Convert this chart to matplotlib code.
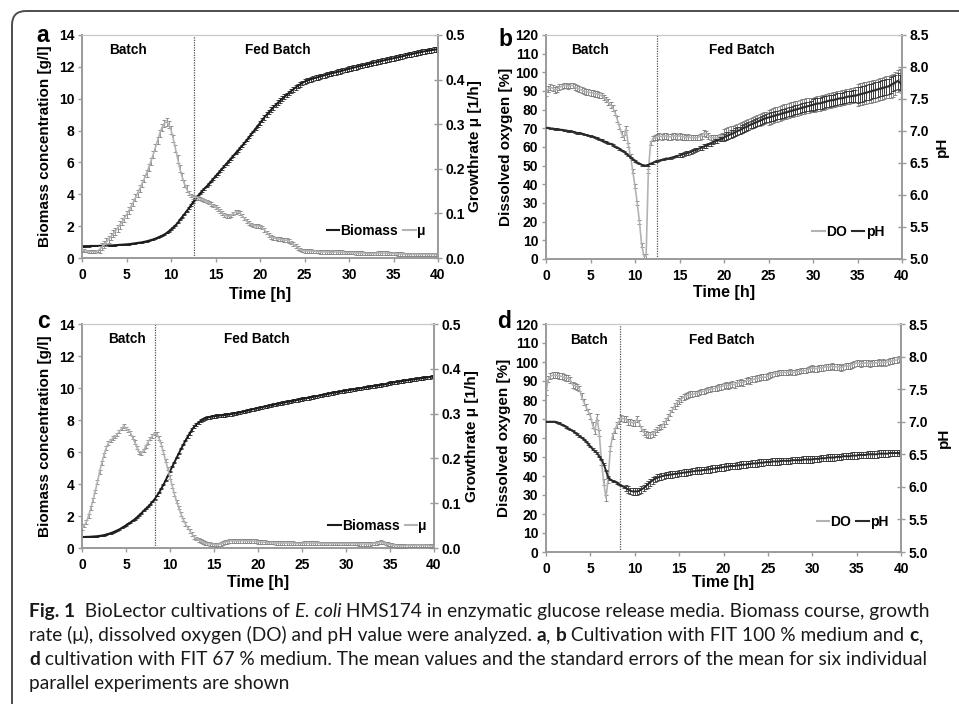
import numpy as np
import matplotlib
matplotlib.use("Agg")
import matplotlib.pyplot as plt
from matplotlib.lines import Line2D
from matplotlib.patches import FancyBboxPatch
from matplotlib.transforms import IdentityTransform, blended_transform_factory
from matplotlib import font_manager

W, H, DPI = 959, 704, 100

# sampling times (h), every 15 min
time_h = np.arange(0, 40.001, 0.25)

# ---------------- Panel a: FIT 100 % ----------------
a_biomass = [
    0.75, 0.75, 0.75, 0.75, 0.76, 0.76, 0.76, 0.76, 0.77, 0.77, 0.78, 0.78,
    0.79, 0.79, 0.80, 0.81, 0.82, 0.83, 0.84, 0.85, 0.86, 0.87, 0.89, 0.91,
    0.93, 0.95, 0.97, 0.99, 1.02, 1.05, 1.09, 1.13, 1.17, 1.22, 1.28, 1.34,
    1.40, 1.48, 1.57, 1.68, 1.80, 1.92, 2.05, 2.20, 2.40, 2.57, 2.75, 2.93,
    3.12, 3.32, 3.52, 3.70, 3.88, 4.05, 4.21, 4.36, 4.49, 4.65, 4.80, 4.96,
    5.12, 5.28, 5.44, 5.60, 5.76, 5.92, 6.08, 6.24, 6.40, 6.56, 6.72, 6.88,
    7.04, 7.22, 7.40, 7.58, 7.76, 7.94, 8.12, 8.30, 8.48, 8.66, 8.84, 9.00,
    9.16, 9.31, 9.46, 9.60, 9.74, 9.87, 10.00, 10.12, 10.24, 10.36, 10.48, 10.59,
    10.70, 10.80, 10.90, 10.99, 11.07, 11.13, 11.18, 11.23, 11.27, 11.31, 11.35, 11.39,
    11.43, 11.47, 11.51, 11.55, 11.59, 11.62, 11.65, 11.69, 11.72, 11.76, 11.80, 11.84,
    11.88, 11.91, 11.95, 11.98, 12.02, 12.05, 12.08, 12.12, 12.15, 12.18, 12.22, 12.25,
    12.29, 12.32, 12.35, 12.38, 12.42, 12.45, 12.48, 12.51, 12.54, 12.57, 12.60, 12.63,
    12.66, 12.70, 12.74, 12.77, 12.80, 12.83, 12.86, 12.89, 12.92, 12.95, 12.98, 13.00,
    13.02, 13.05, 13.07, 13.09, 13.10]
a_biomass_err = [0.03] * 48 + [0.06] * 32 + [0.15] * 81

a_mu = [
    0.018, 0.017, 0.016, 0.015, 0.014, 0.014, 0.014, 0.016, 0.020, 0.025, 0.030, 0.036,
    0.042, 0.048, 0.054, 0.060, 0.067, 0.074, 0.081, 0.089, 0.097, 0.106, 0.115, 0.125,
    0.135, 0.145, 0.156, 0.167, 0.178, 0.190, 0.203, 0.217, 0.232, 0.248, 0.264, 0.280,
    0.293, 0.302, 0.305, 0.300, 0.287, 0.268, 0.245, 0.222, 0.200, 0.182, 0.167, 0.155,
    0.146, 0.140, 0.137, 0.136, 0.135, 0.133, 0.131, 0.129, 0.127, 0.124, 0.121, 0.118,
    0.114, 0.110, 0.106, 0.101, 0.097, 0.094, 0.093, 0.095, 0.100, 0.103, 0.104, 0.101,
    0.095, 0.089, 0.083, 0.078, 0.075, 0.073, 0.072, 0.072, 0.071, 0.068, 0.063, 0.057,
    0.051, 0.047, 0.045, 0.044, 0.043, 0.042, 0.041, 0.040, 0.040, 0.038, 0.035, 0.031,
    0.027, 0.023, 0.019, 0.017, 0.016, 0.016, 0.016, 0.016, 0.015, 0.015, 0.015, 0.014,
    0.014, 0.014, 0.013, 0.013, 0.012, 0.013, 0.014, 0.013, 0.013, 0.013, 0.012, 0.012,
    0.012, 0.012, 0.012, 0.011, 0.011, 0.011, 0.011, 0.010, 0.010, 0.010, 0.010, 0.010,
    0.010, 0.011, 0.011, 0.011, 0.011, 0.011, 0.010, 0.010, 0.010, 0.010, 0.009, 0.009,
    0.009, 0.008, 0.008, 0.008, 0.008, 0.008, 0.008, 0.008, 0.008, 0.008, 0.008, 0.008,
    0.008, 0.008, 0.008, 0.008, 0.008]
a_mu_err = [0.003] * 8 + [0.008] * 40 + [0.004] * 113

# ---------------- Panel b: FIT 100 % ----------------
b_do = [
    89, 91, 92, 91.5, 90.5, 91, 92, 92.5, 93, 93, 92.5, 93,
    93, 92, 91.5, 91, 90.5, 90, 89.5, 89.5, 89, 89, 88.5, 88.5,
    88, 87.5, 86.5, 85.5, 84, 82.5, 81, 78.5, 75, 71, 67, 65,
    70, 61, 55, 47, 39, 30, 20, 7.5, 1.6, 1.6, 47, 62,
    64.5, 65, 65.5, 66, 65.5, 66, 66, 65.5, 65.5, 66, 66, 65.5,
    66, 65.5, 65.5, 65, 65.5, 65, 65, 65, 65, 65.5, 66, 67.5,
    67, 66, 65, 65, 65, 65, 65.5, 66, 66.5, 67, 67.5, 68,
    68.5, 69, 69.5, 70, 70.5, 71, 71.5, 72, 72.5, 73, 73.5, 74,
    74.5, 75, 75.5, 76, 76, 76.5, 77, 77.5, 77.5, 78, 78.5, 79,
    79, 79.5, 80, 80, 80.5, 80.5, 81, 81.5, 81.5, 82, 82, 82.5,
    82.5, 83, 83.5, 83.5, 84, 84, 84.5, 85, 85, 85.5, 85.5, 86,
    86, 86.5, 86.5, 87, 87, 87.5, 87.5, 88, 88, 88.5, 88.5, 89,
    89, 89.5, 89.5, 90, 90, 90.5, 91, 91, 91.5, 92, 92, 92.5,
    93, 94, 95.5, 96, 93]
b_do_err = [1.5] * 36 + [1.0] * 12 + [1.5] * 32 + [3.0] * 20 + [4.0] * 40 + [6.0] * 21

b_ph = [
    7.05, 7.05, 7.04, 7.04, 7.03, 7.03, 7.02, 7.02, 7.01, 7.01, 7.00, 7.00,
    6.99, 6.98, 6.97, 6.97, 6.96, 6.95, 6.94, 6.93, 6.92, 6.91, 6.90, 6.89,
    6.87, 6.86, 6.84, 6.83, 6.81, 6.80, 6.78, 6.76, 6.74, 6.72, 6.70, 6.68,
    6.65, 6.62, 6.59, 6.56, 6.53, 6.51, 6.49, 6.47, 6.46, 6.46, 6.47, 6.49,
    6.50, 6.52, 6.53, 6.54, 6.55, 6.56, 6.57, 6.57, 6.58, 6.59, 6.60, 6.61,
    6.62, 6.63, 6.64, 6.65, 6.66, 6.67, 6.69, 6.70, 6.71, 6.73, 6.74, 6.76,
    6.77, 6.79, 6.80, 6.82, 6.84, 6.85, 6.87, 6.88, 6.90, 6.92, 6.93, 6.95,
    6.96, 6.98, 7.00, 7.01, 7.03, 7.05, 7.06, 7.08, 7.10, 7.11, 7.13, 7.14,
    7.16, 7.17, 7.19, 7.20, 7.21, 7.22, 7.23, 7.24, 7.25, 7.26, 7.27, 7.28,
    7.29, 7.30, 7.31, 7.32, 7.33, 7.34, 7.35, 7.36, 7.37, 7.38, 7.39, 7.40,
    7.41, 7.42, 7.43, 7.43, 7.44, 7.45, 7.46, 7.47, 7.48, 7.48, 7.49, 7.50,
    7.51, 7.51, 7.52, 7.53, 7.54, 7.54, 7.55, 7.55, 7.56, 7.57, 7.58, 7.59,
    7.60, 7.61, 7.62, 7.63, 7.64, 7.65, 7.66, 7.67, 7.68, 7.69, 7.70, 7.72,
    7.74, 7.76, 7.78, 7.76, 7.72]
b_ph_err = [0.01] * 60 + [0.03] * 20 + [0.06] * 20 + [0.07] * 20 + [0.09] * 20 + [0.12] * 21

# ---------------- Panel c: FIT 67 % ----------------
c_biomass = [
    0.69, 0.69, 0.70, 0.70, 0.71, 0.72, 0.73, 0.74, 0.76, 0.78, 0.81, 0.84,
    0.88, 0.93, 0.98, 1.04, 1.10, 1.17, 1.25, 1.33, 1.42, 1.51, 1.60, 1.70,
    1.80, 1.92, 2.05, 2.18, 2.32, 2.45, 2.58, 2.72, 2.88, 3.05, 3.25, 3.46,
    3.70, 3.95, 4.22, 4.50, 4.80, 5.08, 5.36, 5.64, 5.92, 6.19, 6.45, 6.70,
    6.95, 7.18, 7.40, 7.58, 7.72, 7.85, 7.95, 8.03, 8.10, 8.14, 8.18, 8.21,
    8.23, 8.25, 8.26, 8.28, 8.29, 8.31, 8.33, 8.35, 8.37, 8.40, 8.42, 8.45,
    8.48, 8.51, 8.55, 8.58, 8.61, 8.65, 8.68, 8.71, 8.74, 8.77, 8.80, 8.83,
    8.86, 8.89, 8.92, 8.95, 8.98, 9.01, 9.03, 9.06, 9.09, 9.12, 9.14, 9.17,
    9.20, 9.22, 9.25, 9.28, 9.31, 9.33, 9.36, 9.38, 9.41, 9.44, 9.47, 9.49,
    9.52, 9.55, 9.58, 9.60, 9.63, 9.66, 9.69, 9.71, 9.74, 9.76, 9.78, 9.81,
    9.83, 9.86, 9.88, 9.90, 9.92, 9.95, 9.97, 9.99, 10.01, 10.04, 10.06, 10.08,
    10.10, 10.12, 10.14, 10.17, 10.19, 10.21, 10.23, 10.27, 10.31, 10.33, 10.35, 10.37,
    10.39, 10.42, 10.44, 10.46, 10.48, 10.50, 10.52, 10.54, 10.56, 10.58, 10.60, 10.62,
    10.64, 10.66, 10.68, 10.71, 10.73]
c_biomass_err = [0.03] * 48 + [0.10] * 113

c_mu = [
    0.045, 0.050, 0.058, 0.072, 0.089, 0.107, 0.126, 0.147, 0.170, 0.190, 0.208, 0.223,
    0.234, 0.240, 0.245, 0.249, 0.253, 0.260, 0.267, 0.272, 0.267, 0.262, 0.257, 0.247,
    0.236, 0.224, 0.213, 0.211, 0.218, 0.227, 0.236, 0.244, 0.250, 0.256, 0.255, 0.245,
    0.232, 0.214, 0.195, 0.177, 0.158, 0.139, 0.120, 0.104, 0.090, 0.076, 0.064, 0.054,
    0.046, 0.038, 0.031, 0.025, 0.021, 0.018, 0.015, 0.013, 0.011, 0.010, 0.009, 0.008,
    0.008, 0.007, 0.008, 0.009, 0.011, 0.013, 0.014, 0.015, 0.016, 0.016, 0.016, 0.016,
    0.016, 0.016, 0.016, 0.016, 0.016, 0.016, 0.015, 0.015, 0.014, 0.014, 0.013, 0.013,
    0.012, 0.012, 0.012, 0.012, 0.011, 0.011, 0.011, 0.011, 0.011, 0.011, 0.011, 0.011,
    0.011, 0.010, 0.010, 0.010, 0.010, 0.011, 0.011, 0.011, 0.011, 0.011, 0.011, 0.011,
    0.010, 0.010, 0.010, 0.010, 0.010, 0.010, 0.010, 0.010, 0.010, 0.010, 0.010, 0.010,
    0.010, 0.010, 0.010, 0.010, 0.010, 0.010, 0.009, 0.009, 0.009, 0.009, 0.009, 0.009,
    0.010, 0.010, 0.011, 0.012, 0.013, 0.012, 0.010, 0.009, 0.008, 0.007, 0.006, 0.005,
    0.005, 0.005, 0.005, 0.005, 0.006, 0.006, 0.006, 0.006, 0.006, 0.006, 0.006, 0.006,
    0.006, 0.006, 0.005, 0.005, 0.005]
c_mu_err = [0.004] * 161

# ---------------- Panel d: FIT 67 % ----------------
d_do = [
    84, 91, 92.5, 93, 93, 93, 92.5, 92.5, 92, 91.5, 91.5, 90.5,
    88, 87.5, 87, 86, 82, 79, 76.5, 74, 71.5, 67, 63.5, 71,
    62.5, 47.5, 37, 28.5, 38, 54.5, 61, 64, 67, 69, 70.5, 70,
    70, 68.5, 68.5, 68, 68, 70, 68, 65, 63, 62, 61.5, 61.5,
    62, 63, 64.5, 65.5, 66, 67.5, 69, 71, 73, 75, 77, 78.5,
    79.5, 80.5, 81.5, 82, 82.5, 83, 83, 83.5, 83.5, 84, 84.5, 84.5,
    85, 85.5, 85.5, 86, 86, 86.5, 87, 87, 87.5, 88, 87.5, 88,
    88.5, 88, 89, 89, 89.5, 89, 90, 90.5, 90, 91, 91, 91.5,
    91.5, 92, 92, 92, 92.5, 93, 93.5, 94, 94, 94.5, 94.5, 94.5,
    94.5, 94.5, 95, 94.5, 94.5, 95, 95, 95.5, 95.5, 95.5, 96, 96.5,
    97, 96.5, 96.5, 97, 97, 97, 97.5, 97.5, 97.5, 98, 97.5, 97.5,
    97.5, 97, 97.5, 98, 98, 98, 98.5, 99, 99.5, 99.5, 99, 99.5,
    99.5, 99.5, 99, 99.5, 99.5, 99.5, 100, 99.5, 100, 99.5, 100, 100.5,
    100.5, 101, 101, 101.5, 101.5]
d_do_err = [1.5] * 161

d_ph = [
    7.00, 7.00, 7.00, 7.00, 7.00, 6.99, 6.98, 6.96, 6.94, 6.92, 6.90, 6.88,
    6.86, 6.83, 6.81, 6.78, 6.76, 6.73, 6.70, 6.66, 6.62, 6.58, 6.55, 6.52,
    6.47, 6.42, 6.35, 6.25, 6.15, 6.11, 6.09, 6.08, 6.06, 6.04, 6.02, 6.00,
    5.98, 5.96, 5.94, 5.93, 5.93, 5.93, 5.94, 5.96, 5.98, 6.01, 6.04, 6.07,
    6.10, 6.12, 6.14, 6.15, 6.16, 6.17, 6.18, 6.18, 6.19, 6.19, 6.20, 6.20,
    6.21, 6.21, 6.22, 6.22, 6.23, 6.23, 6.24, 6.24, 6.25, 6.25, 6.25, 6.26,
    6.26, 6.27, 6.27, 6.28, 6.28, 6.29, 6.29, 6.30, 6.30, 6.31, 6.31, 6.32,
    6.32, 6.32, 6.33, 6.33, 6.34, 6.34, 6.34, 6.35, 6.35, 6.36, 6.36, 6.36,
    6.37, 6.37, 6.37, 6.38, 6.38, 6.38, 6.39, 6.39, 6.39, 6.39, 6.40, 6.40,
    6.40, 6.40, 6.40, 6.41, 6.41, 6.41, 6.41, 6.41, 6.42, 6.42, 6.42, 6.42,
    6.42, 6.43, 6.43, 6.43, 6.44, 6.44, 6.44, 6.45, 6.45, 6.45, 6.45, 6.46,
    6.46, 6.46, 6.47, 6.47, 6.47, 6.47, 6.48, 6.48, 6.48, 6.49, 6.49, 6.49,
    6.49, 6.50, 6.50, 6.50, 6.50, 6.50, 6.51, 6.51, 6.51, 6.51, 6.51, 6.52,
    6.52, 6.52, 6.52, 6.52, 6.52]
d_ph_err = [0.01] * 36 + [0.05] * 125

# phase switch (batch -> fed batch), h
switch_ab = [12.6, 12.5]
switch_cd = [8.3, 8.3]

x_ticks = [0, 5, 10, 15, 20, 25, 30, 35, 40]
biomass_ticks = [0, 2, 4, 6, 8, 10, 12, 14]
mu_ticks = [0.0, 0.1, 0.2, 0.3, 0.4, 0.5]
do_ticks = [0, 10, 20, 30, 40, 50, 60, 70, 80, 90, 100, 110, 120]
ph_ticks = [5.0, 5.5, 6.0, 6.5, 7.0, 7.5, 8.0, 8.5]

caption_lines = [
    [("Fig. 1", "bold", "normal"), ("  BioLector cultivations of ", "normal", "normal"),
     ("E. coli", "normal", "italic"),
     (" HMS174 in enzymatic glucose release media. Biomass course, growth", "normal", "normal")],
    [("rate (\u03bc), dissolved oxygen (DO) and pH value were analyzed. ", "normal", "normal"),
     ("a", "bold", "normal"), (", ", "normal", "normal"), ("b", "bold", "normal"),
     (" Cultivation with FIT 100 % medium and ", "normal", "normal"),
     ("c", "bold", "normal"), (",", "normal", "normal")],
    [("d", "bold", "normal"),
     (" cultivation with FIT 67 % medium. The mean values and the standard errors of the mean for six individual",
      "normal", "normal")],
    [("parallel experiments are shown", "normal", "normal")],
]

# ---------------- styling ----------------
plt.rcParams["font.family"] = ["Liberation Sans", "DejaVu Sans"]
plt.rcParams["font.weight"] = "bold"

DARK = "#1c1c1c"
GRAY = "#b3b3b3"
SPINE = "#9a9a9a"

fig = plt.figure(figsize=(W / DPI, H / DPI), dpi=DPI)
fig.patch.set_facecolor("white")


def rect(x0, y0, x1, y1):
    return [x0 / W, 1 - y1 / H, (x1 - x0) / W, (y1 - y0) / H]


def ftext(x, y, s, **kw):
    return fig.text(x / W, 1 - y / H, s, **kw)


def series(ax, y, err, color, ecolor, lw):
    ax.errorbar(time_h, y, yerr=err, color=color, lw=lw, ecolor=ecolor,
                elinewidth=0.6, capsize=1.2, capthick=0.6)


def panel(box, left, right, switch, labels, texts_x, legend_xy, leg_names):
    x0, y0, x1, y1 = box
    ax = fig.add_axes(rect(*box))
    ax2 = ax.twinx()
    (ly, lerr, lcol, lecol, llw, lylim, lyt, lfmt) = left
    (ry, rerr, rcol, recol, rlw, rylim, ryt, rfmt) = right
    series(ax, ly, lerr, lcol, lecol, llw)
    series(ax2, ry, rerr, rcol, recol, rlw)
    ax.set_xlim(0, 40)
    ax.set_ylim(*lylim)
    ax2.set_ylim(*rylim)
    ax.set_xticks(x_ticks)
    ax.set_yticks(lyt)
    ax2.set_yticks(ryt)
    ax.set_yticklabels([lfmt % v for v in lyt])
    ax2.set_yticklabels([rfmt % v for v in ryt])
    ax.axvline(switch, color="#555555", lw=0.9, ls=(0, (1, 1)))
    for a in (ax, ax2):
        for s in a.spines.values():
            s.set_color(SPINE)
            s.set_linewidth(1.4)
        a.spines["top"].set_color("#c8c8c8")
        a.spines["top"].set_linewidth(0.8)
    ax.spines["right"].set_visible(False)
    ax2.spines["left"].set_visible(False)
    ax2.spines["bottom"].set_visible(False)
    ax.tick_params(axis="y", direction="out", length=3, width=1, color=SPINE,
                   pad=2.5, labelsize=10)
    ax.tick_params(axis="x", direction="out", length=3, width=1, color=SPINE,
                   pad=4, labelsize=10)
    ax2.tick_params(axis="y", direction="inout", length=6, width=1, color=SPINE,
                    pad=2.5, labelsize=10)
    tr = blended_transform_factory(ax.transData, ax.transAxes)
    ax.text(texts_x[0], 0.932, "Batch", transform=tr, ha="center", va="center",
            fontsize=9.8, fontweight="bold")
    ax.text(texts_x[1], 0.932, "Fed Batch", transform=tr, ha="center", va="center",
            fontsize=9.8, fontweight="bold")
    handles = [Line2D([], [], color=leg_names[0][1], lw=1.5),
               Line2D([], [], color=leg_names[1][1], lw=1.5)]
    ax2.legend(handles, [leg_names[0][0], leg_names[1][0]], loc="center right",
               bbox_to_anchor=legend_xy, ncol=2, frameon=False, handlelength=0.9,
               handletextpad=0.1, columnspacing=0.35, borderpad=0, borderaxespad=0,
               prop={"weight": "bold", "size": 10})
    # axis titles
    (ylab, ylab_x, ylab_size, rlab, rlab_x, xlab_y, letter, letter_xy) = labels
    ym = (y0 + y1) / 2
    ftext(ylab_x, ym, ylab, rotation=90, ha="center", va="center",
          fontsize=ylab_size, fontweight="bold")
    ftext(rlab_x, ym, rlab, rotation=90, ha="center", va="center",
          fontsize=11, fontweight="bold")
    ftext((x0 + x1) / 2, xlab_y, "Time [h]", ha="center", va="center",
          fontsize=11.5, fontweight="bold")
    ftext(letter_xy[0], letter_xy[1], letter, ha="left", va="baseline",
          fontsize=16.5, fontweight="bold")
    return ax, ax2


# a
panel((82, 35, 438, 258),
      (a_biomass, a_biomass_err, DARK, "#222222", 1.4, (0, 14), biomass_ticks, "%d"),
      (a_mu, a_mu_err, GRAY, "#858585", 1.2, (0, 0.5), mu_ticks, "%.1f"),
      switch_ab[0],
      ("Biomass concentration [g/l]", 45, 11, "Growthrate \u03bc [1/h]", 475, 294, "a", (36, 42)),
      (5.2, 22.0), (0.965, 0.12), [("Biomass", DARK), ("\u03bc", GRAY)])
# b
panel((546, 35, 902, 259),
      (b_do, b_do_err, GRAY, "#7a7a7a", 1.2, (0, 120), do_ticks, "%d"),
      (b_ph, b_ph_err, "#2a2a2a", "#333333", 1.4, (5.0, 8.5), ph_ticks, "%.1f"),
      switch_ab[1],
      ("Dissolved oxygen [%]", 506, 11, "pH", 942, 292, "b", (498, 46)),
      (4.95, 22.0), (0.95, 0.12), [("DO", GRAY), ("pH", "#2a2a2a")])
# c
panel((82, 324, 434, 548),
      (c_biomass, c_biomass_err, DARK, "#222222", 1.4, (0, 14), biomass_ticks, "%d"),
      (c_mu, c_mu_err, GRAY, "#858585", 1.2, (0, 0.5), mu_ticks, "%.1f"),
      switch_cd[0],
      ("Biomass concentration [g/l]", 45, 11, "Growthrate \u03bc [1/h]", 472, 582, "c", (37, 328)),
      (5.1, 19.9), (0.98, 0.10), [("Biomass", DARK), ("\u03bc", GRAY)])
# d
panel((546, 324, 901, 552),
      (d_do, d_do_err, GRAY, "#7a7a7a", 1.2, (0, 120), do_ticks, "%d"),
      (d_ph, d_ph_err, "#2a2a2a", "#333333", 1.4, (5.0, 8.5), ph_ticks, "%.1f"),
      switch_cd[1],
      ("Dissolved oxygen [%]", 504, 11, "pH", 944, 582, "d", (497, 328)),
      (4.85, 19.8), (0.965, 0.133), [("DO", GRAY), ("pH", "#2a2a2a")])

# ---------------- frame ----------------
frame = FancyBboxPatch((12, -60), 1100, (H - 11) + 60,
                       boxstyle="round,pad=0,rounding_size=14",
                       transform=IdentityTransform(), fill=False,
                       edgecolor="#4d4d4d", linewidth=1.4)
fig.add_artist(frame)

# ---------------- caption ----------------
avail = {f.name for f in font_manager.fontManager.ttflist}
cap_family = "Lato" if "Lato" in avail else "DejaVu Sans"
renderer = fig.canvas.get_renderer()


def seg_width(s, size, weight, style):
    probe = fig.text(0, 0, "|" + s + "|", fontsize=size, fontweight=weight,
                     fontstyle=style, family=[cap_family, "DejaVu Sans"])
    w1 = probe.get_window_extent(renderer).width
    probe.set_text("||")
    w0 = probe.get_window_extent(renderer).width
    probe.remove()
    return w1 - w0


base = 10.0
w_line1 = sum(seg_width(s, base, wt, st) for s, wt, st in caption_lines[0])
cap_size = base * 905.0 / w_line1
baselines = [617, 641, 665, 689]
for line, yb in zip(caption_lines, baselines):
    x = 29.0
    for s, wt, st in line:
        ftext(x, yb, s, fontsize=cap_size, fontweight=wt, fontstyle=st,
              family=[cap_family, "DejaVu Sans"], ha="left", va="baseline",
              color="#1a1a1a")
        x += seg_width(s, cap_size, wt, st)

fig.savefig("out.png", dpi=DPI, facecolor="white")
